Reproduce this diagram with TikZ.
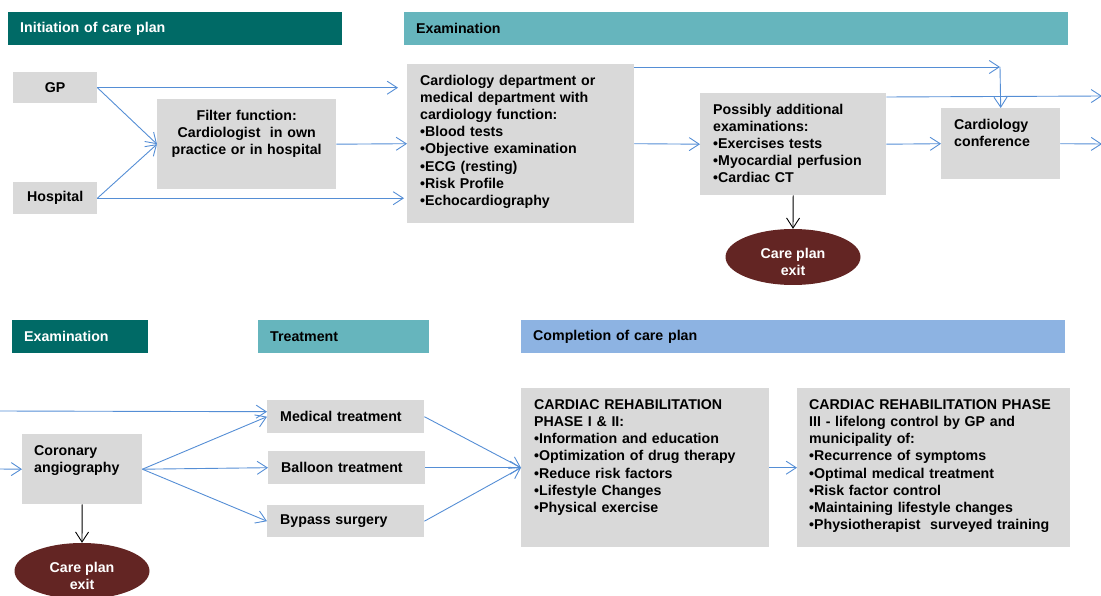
\documentclass[tikz,border=0pt]{standalone}
\usepackage{fontspec}
\setmainfont{Liberation Sans}
\usetikzlibrary{arrows.meta,shapes.geometric}
\definecolor{darkteal}{RGB}{0,106,102}
\definecolor{lightteal}{RGB}{102,181,189}
\definecolor{headblue}{RGB}{141,179,226}
\definecolor{boxgray}{RGB}{217,217,217}
\definecolor{linkblue}{RGB}{85,142,213}
\definecolor{exitred}{RGB}{99,37,35}
\tikzset{
  hdr/.style={anchor=north west, minimum height=33pt, inner xsep=12pt, inner ysep=0pt, align=left},
  box/.style={fill=boxgray, anchor=north west, inner xsep=13pt, inner ysep=0pt},
  topbox/.style={box, align=left, text height=21pt},
  exitnode/.style={ellipse, fill=exitred, text=white, minimum width=135pt, minimum height=56pt, inner sep=0pt, align=center, text height=37pt, text depth=0pt},
  link/.style={draw=linkblue, line width=0.9pt, -{Straight Barb[length=10pt,width=13pt]}},
  exitlink/.style={draw=black, line width=0.9pt, -{Straight Barb[length=10pt,width=13pt]}}
}
\begin{document}
\begin{tikzpicture}[x=1pt, y=-1pt, font=\fontsize{14.2}{17.2}\selectfont\bfseries]
\useasboundingbox (0,0) rectangle (1101,596);

% Headers
\node[hdr, fill=darkteal, text=white, text width=310pt] (hinit) at (8,12) {Initiation of care plan};
\node[hdr, fill=lightteal, text width=640pt] (hexam) at (404,12) {Examination};
\node[hdr, fill=darkteal, text=white, text width=112pt] (hexamb) at (12,320) {Examination};
\node[hdr, fill=lightteal, text width=147pt] (htreat) at (258,320) {Treatment};
\node[hdr, fill=headblue, text width=520pt] (hcomp) at (521,320) {Completion of care plan};

% Upper row
\node[box, inner xsep=0pt, minimum width=84pt, minimum height=31pt] (gp) at (13,72) {GP};
\node[box, inner xsep=0pt, minimum width=84pt, minimum height=32pt] (hosp) at (13,182) {Hospital};
\node[topbox, align=center, text width=153pt, text depth=69pt] (filter) at (157,99) {Filter function:\\Cardiologist\ \ in own\\practice or in hospital};
\node[topbox, text width=201pt, text depth=138pt] (cardio) at (407,64) {Cardiology department or\\medical department with\\cardiology function:\\•Blood tests\\•Objective examination\\•ECG (resting)\\•Risk Profile\\•Echocardiography};
\node[topbox, text width=160pt, text depth=81pt] (poss) at (700,93) {Possibly additional\\examinations:\\•Exercises tests\\•Myocardial perfusion\\•Cardiac CT};
\node[topbox, text width=93pt, text depth=50pt] (conf) at (941,108) {Cardiology\\conference};
\node[exitnode] (exita) at (793,257) {Care plan\\exit};

% Lower row
\node[topbox, inner xsep=12pt, text width=96pt, text depth=49pt] (coro) at (22,434) {Coronary\\angiography};
\node[box, minimum height=33pt, text width=131pt, align=left] (medic) at (267,400) {Medical treatment};
\node[box, minimum height=33pt, text width=131pt, align=left] (balloon) at (268,451) {Balloon treatment};
\node[box, minimum height=32pt, text width=131pt, align=left] (bypass) at (267,505) {Bypass surgery};
\node[exitnode] (exitb) at (82,571) {Care plan\\exit};
\node[topbox, text width=222pt, text depth=138pt] (rehaba) at (521,388) {CARDIAC REHABILITATION\\PHASE I \& II:\\•Information and education\\•Optimization of drug therapy\\•Reduce risk factors\\•Lifestyle Changes\\•Physical exercise};
\node[topbox, inner xsep=12pt, text width=249pt, text depth=138pt] (rehabb) at (797,388) {CARDIAC REHABILITATION PHASE\\III - lifelong control by GP and\\municipality of:\\•Recurrence of symptoms\\•Optimal medical treatment\\•Risk factor control\\•Maintaining lifestyle changes\\•Physiotherapist\ \ surveyed training};

% Free ends
\coordinate (turn) at (1000,67);
\coordinate (outa) at (1102,96);
\coordinate (outb) at (1102,144);
\coordinate (ina) at (-2,411);
\coordinate (inb) at (-2,469);

% Upper connectors
\draw[link, shorten >=9pt] (gp.east) -- (gp.east -| cardio.west);
\draw[link] (gp.east) -- (filter.west);
\draw[link] (hosp.east) -- (filter.west);
\draw[link] (filter.east) -- (cardio.west);
\draw[link, shorten >=3pt] (hosp.east) -- (hosp.east -| cardio.west);
\draw[link] (cardio.east |- turn) -- (turn);
\draw[link] (turn) -- (conf.north);
\draw[link] (cardio.east) -- (poss.west);
\draw[exitlink] (poss.south) -- (exita.north);
\draw[link] (poss.east) -- (conf.west);
\draw[link] ([yshift=-4pt]poss.north east) -- (outa);
\draw[link] (conf.east) -- (outb);

% Lower connectors
\draw[link] (ina) -- ([yshift=5pt]medic.west);
\draw[link] (inb) -- (coro.west);
\draw[link] (coro.east) -- (medic.west);
\draw[link] (coro.east) -- (balloon.west);
\draw[link] (coro.east) -- (bypass.west);
\draw[exitlink] (coro.south) -- (exitb.north);
\draw[link] (medic.east) -- (rehaba.west);
\draw[link] (balloon.east) -- (rehaba.west);
\draw[link] (bypass.east) -- (rehaba.west);
\draw[link] (rehaba.east) -- (rehabb.west);
\end{tikzpicture}
\end{document}
